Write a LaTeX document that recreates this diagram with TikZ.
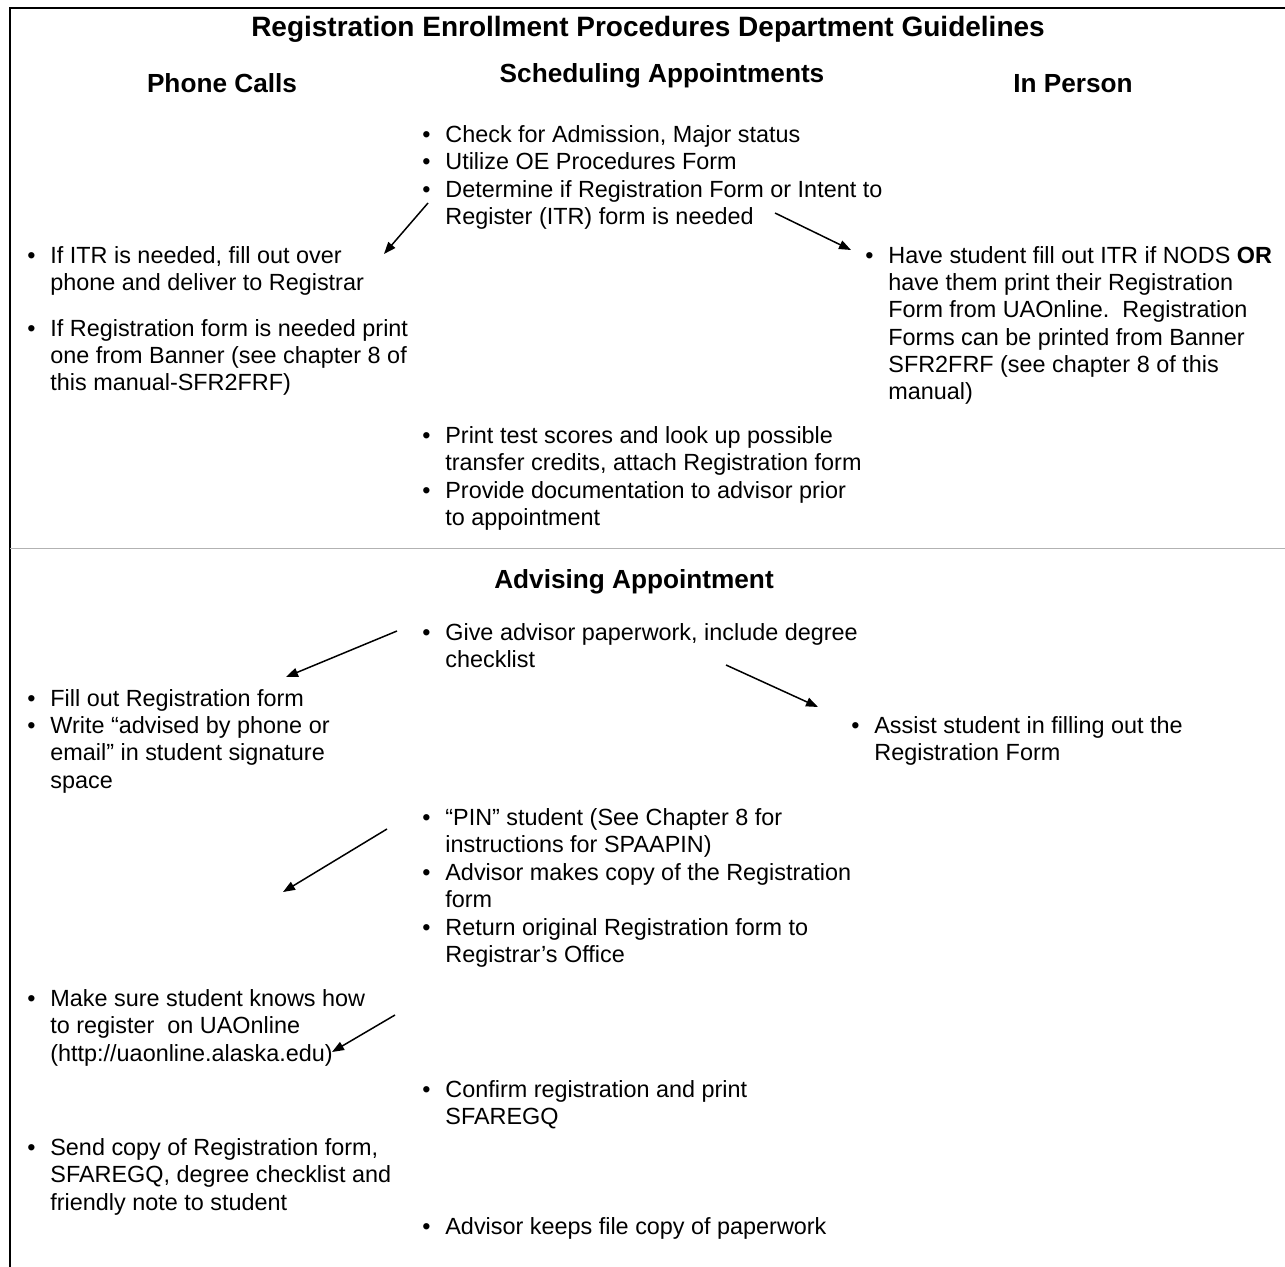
\documentclass[tikz,border=0pt]{standalone}
\usepackage{fontspec}
\setmainfont{Liberation Sans}
\usetikzlibrary{arrows.meta}
\newlength\bind
\setlength\bind{11.5pt}
\newcommand\bu{\strut\makebox[\bind][l]{•}}
\newcommand\hi{\hspace*{\bind}}
\begin{document}
\begin{tikzpicture}[x=0.5pt,y=-0.5pt,
  body/.style={font=\fontsize{11.7}{13.65}\selectfont, inner sep=0pt, align=left, anchor=north west, yshift=9.555pt},
  head/.style={font=\fontsize{13.1}{15}\selectfont\bfseries, inner sep=0pt, anchor=base},
  arr/.style={line width=0.75pt, -{Triangle[length=6pt,width=4.5pt]}}]
\useasboundingbox (0,0) rectangle (1285,1267);
\fill[white] (0,0) rectangle (1285,1267);
\draw[line width=1pt] (10,1267) -- (10,8) -- (1285,8);

\node[head, font=\fontsize{14}{16}\selectfont\bfseries] (title) at (648,37) {Registration Enrollment Procedures Department Guidelines};
\node[head] (hphone) at (222,93) {Phone Calls};
\node[head] (hsched) at (662,83) {Scheduling Appointments};
\node[head] (hperson) at (1073,93) {In Person};

\node[body] (s1) at (422,142) {\bu Check for Admission, Major status};
\node[body] (s2) at (422,169) {\bu Utilize OE Procedures Form};
\node[body] (s3) at (422,197) {\bu Determine if Registration Form or Intent to\\\hi Register (ITR) form is needed};

\node[body] (p1) at (27,263) {\bu If ITR is needed, fill out over\\\hi phone and deliver to Registrar};
\node[body] (p2) at (27,336) {\bu If Registration form is needed print\\\hi one from Banner (see chapter 8 of\\\hi this manual-SFR2FRF)};

\node[body] (i1) at (865,263) {\bu Have student fill out ITR if NODS \textbf{OR}\\\hi have them print their Registration\\\hi Form from UAOnline.\ \ Registration\\\hi Forms can be printed from Banner\\\hi SFR2FRF (see chapter 8 of this\\\hi manual)};

\node[body] (s4) at (422,443) {\bu Print test scores and look up possible\\\hi transfer credits, attach Registration form};
\node[body] (s5) at (422,498) {\bu Provide documentation to advisor prior\\\hi to appointment};

\coordinate (dl) at (10,548);
\coordinate (dr) at (1285,548);
\draw[gray!60, line width=0.4pt] (dl) -- (dr);

\node[head] (hadv) at (634,588) {Advising Appointment};
\node[body] (a1) at (422,640) {\bu Give advisor paperwork, include degree\\\hi checklist};
\node[body] (l1) at (27,706) {\bu Fill out Registration form};
\node[body] (l2) at (27,733) {\bu Write “advised by phone or\\\hi email” in student signature\\\hi space};
\node[body] (r1) at (851,733) {\bu Assist student in filling out the\\\hi Registration Form};
\node[body] (a2) at (422,825) {\bu “PIN” student (See Chapter 8 for\\\hi instructions for SPAAPIN)};
\node[body] (a3) at (422,880) {\bu Advisor makes copy of the Registration\\\hi form};
\node[body] (a4) at (422,935) {\bu Return original Registration form to\\\hi Registrar’s Office};
\node[body] (l3) at (27,1006) {\bu Make sure student knows how\\\hi to register\ \ on UAOnline\\\hi (http://uaonline.alaska.edu)};
\node[body] (a5) at (422,1097) {\bu Confirm registration and print\\\hi SFAREGQ};
\node[body] (l4) at (27,1155) {\bu Send copy of Registration form,\\\hi SFAREGQ, degree checklist and\\\hi friendly note to student};
\node[body] (a6) at (422,1234) {\bu Advisor keeps file copy of paperwork};

\coordinate (A1) at (428,203); \coordinate (A2) at (384,254);
\coordinate (B1) at (775,213); \coordinate (B2) at (851,250);
\coordinate (C1) at (397,631); \coordinate (C2) at (286,677);
\coordinate (D1) at (726,665); \coordinate (D2) at (818,707);
\coordinate (F1) at (387,829); \coordinate (F2) at (283,892);
\coordinate (E1) at (395,1015); \coordinate (E2) at (332,1052);
\draw[arr] (A1) -- (A2);
\draw[arr] (B1) -- (B2);
\draw[arr] (C1) -- (C2);
\draw[arr] (D1) -- (D2);
\draw[arr] (F1) -- (F2);
\draw[arr] (E1) -- (E2);
\end{tikzpicture}
\end{document}
